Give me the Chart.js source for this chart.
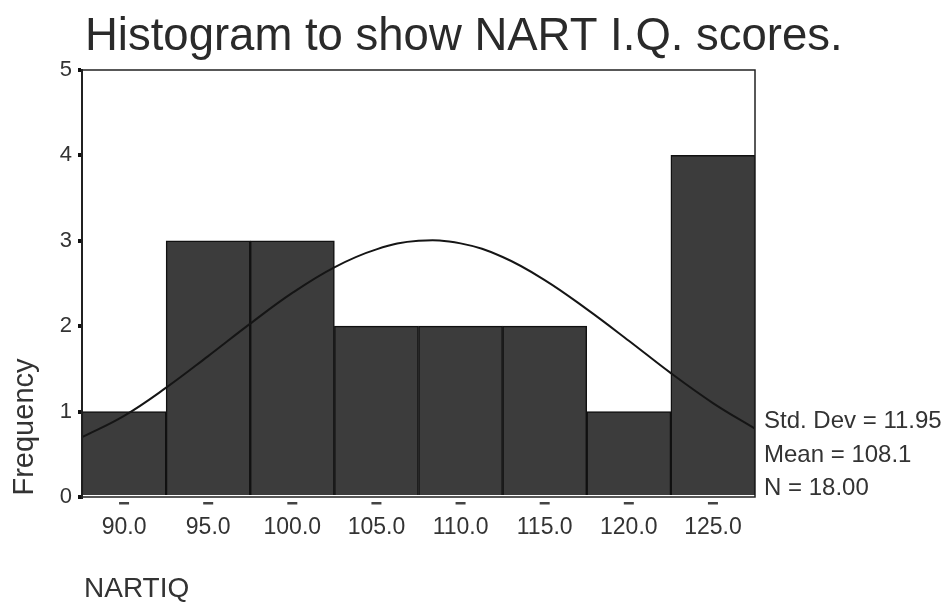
<!DOCTYPE html>
<html>
<head>
<meta charset="utf-8">
<script src="https://cdn.jsdelivr.net/npm/chart.js@4.4.1/dist/chart.umd.min.js"></script>
<style>
  html, body { margin: 0; padding: 0; background: #fff; }
  #wrap { width: 949px; height: 603px; }
</style>
</head>
<body>
<div id="wrap"><canvas id="histChart" width="949" height="603"></canvas></div>
<script>
// bins (midpoints) and counts
const binCenters = [90, 95, 100, 105, 110, 115, 120, 125];
const binLabels = ["90.0", "95.0", "100.0", "105.0", "110.0", "115.0", "120.0", "125.0"];
const counts = [1, 3, 3, 2, 2, 2, 1, 4];

// normal curve
const curveX = [87.5, 90, 92.5, 95, 97.5, 100, 102.5, 105, 107.5, 110, 112.5, 115, 117.5, 120, 122.5, 125, 127.5];
const curveY = [0.70, 0.95, 1.28, 1.65, 2.03, 2.39, 2.69, 2.90, 3.00, 2.97, 2.81, 2.54, 2.20, 1.83, 1.45, 1.10, 0.80];

const statLines = ["Std. Dev = 11.95", "Mean = 108.1", "N = 18.00"];
const yTicks = [0, 1, 2, 3, 4, 5];

const FONT = "'Liberation Sans', Arial, Helvetica, sans-serif";

const decor = {
  id: "decor",
  afterDatasetsDraw(chart) {
    const { ctx, chartArea: a } = chart;
    const xs = chart.scales.x;
    ctx.save();
    ctx.strokeStyle = "#222";
    ctx.lineWidth = 1.5;
    ctx.strokeRect(a.left, a.top, a.right - a.left, a.bottom - a.top);
    // little dash under each bin
    ctx.fillStyle = "#444";
    xs.ticks.forEach((t) => {
      const px = xs.getPixelForValue(t.value);
      ctx.fillRect(px - 5, a.bottom + 5, 10, 2.5);
    });
    ctx.restore();
  },
  afterDraw(chart) {
    const { ctx, chartArea: a } = chart;
    ctx.save();
    ctx.fillStyle = "#2a2a2a";
    ctx.textBaseline = "alphabetic";
    ctx.textAlign = "left";
    ctx.font = "45.5px " + FONT;
    ctx.fillText("Histogram to show NART I.Q. scores.", 85, 50);

    ctx.font = "24px " + FONT;
    ctx.fillStyle = "#333";
    statLines.forEach((s, i) => ctx.fillText(s, a.right + 9, 428 + i * 33.5));

    ctx.font = "28px " + FONT;
    ctx.fillText("NARTIQ", 84, 597);

    ctx.translate(33, 427);
    ctx.rotate(-Math.PI / 2);
    ctx.textAlign = "center";
    ctx.font = "29px " + FONT;
    ctx.fillText("Frequency", 0, 0);
    ctx.restore();
  }
};

new Chart(document.getElementById("histChart"), {
  type: "bar",
  data: {
    datasets: [
      {
        type: "line",
        data: curveX.map((x, i) => ({ x, y: curveY[i] })),
        borderColor: "#151515",
        borderWidth: 2,
        pointRadius: 0,
        tension: 0.4,
        order: 0
      },
      {
        type: "bar",
        data: binCenters.map((x, i) => ({ x, y: counts[i] })),
        backgroundColor: "#3c3c3c",
        borderColor: "#111",
        borderWidth: 1.5,
        barPercentage: 1,
        categoryPercentage: 1,
        grouped: false,
        order: 1
      }
    ]
  },
  options: {
    responsive: false,
    animation: false,
    layout: { padding: { top: 70, right: 194, left: 0, bottom: 0 } },
    plugins: { legend: { display: false }, tooltip: { enabled: false }, title: { display: false } },
    scales: {
      x: {
        type: "linear",
        min: 87.5,
        max: 127.5,
        offset: false,
        afterBuildTicks(s) { s.ticks = binCenters.map(v => ({ value: v })); },
        grid: { display: false },
        border: { display: false },
        ticks: {
          color: "#333",
          font: { family: FONT, size: 23 },
          padding: 9,
          maxRotation: 0,
          autoSkip: false,
          callback: (v, i) => binLabels[i]
        },
        afterFit(s) { s.height = 106; }
      },
      y: {
        min: 0,
        max: 5,
        afterBuildTicks(s) { s.ticks = yTicks.map(v => ({ value: v })); },
        grid: { drawOnChartArea: false, color: "#111", tickLength: 4, lineWidth: 4 },
        border: { color: "#222", width: 2 },
        ticks: { color: "#333", font: { family: FONT, size: 22 }, padding: 6 },
        afterFit(s) { s.width = 82; }
      }
    }
  },
  plugins: [decor]
});
</script>
</body>
</html>
